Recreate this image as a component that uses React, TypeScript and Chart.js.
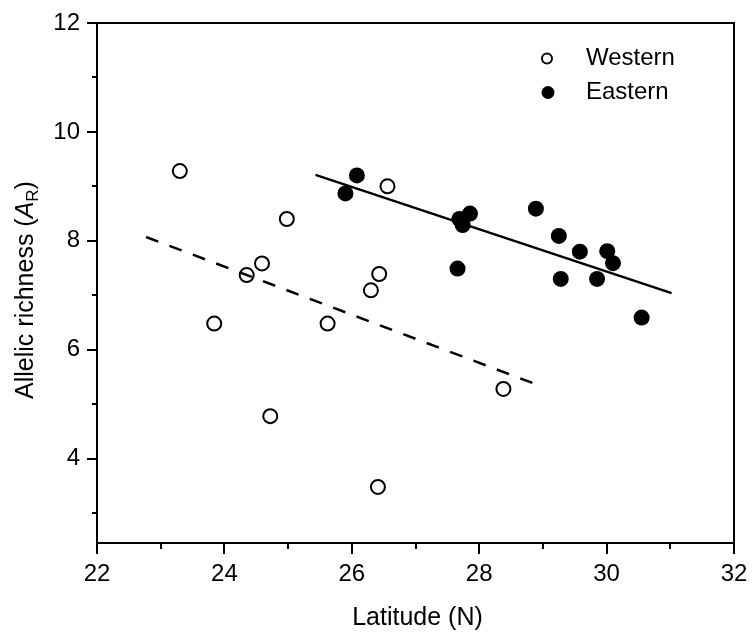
import React, { useEffect, useRef } from "react";
import { Chart, registerables } from "chart.js";

Chart.register(...registerables);

// ---- data ----
const westernLat = [23.3, 23.84, 24.35, 24.59, 24.72, 24.98, 25.62, 26.3, 26.43, 26.41, 26.56, 28.38];
const westernAR = [9.28, 6.48, 7.37, 7.585, 4.78, 8.4, 6.48, 7.09, 7.39, 3.48, 9.0, 5.28];
const easternLat = [25.9, 26.08, 27.69, 27.74, 27.855, 27.66, 28.89, 29.25, 29.28, 29.58, 29.85, 30.01, 30.1, 30.55];
const easternAR = [8.87, 9.2, 8.4, 8.29, 8.5, 7.49, 8.59, 8.09, 7.3, 7.8, 7.3, 7.81, 7.59, 6.59];
const westernFitLat = [22.77, 28.88];
const westernFitAR = [8.07, 5.37];
const easternFitLat = [25.43, 31.02];
const easternFitAR = [9.21, 7.04];
const xMajorTicks = [22, 24, 26, 28, 30, 32];
const xMinorTicks = [23, 25, 27, 29, 31];
const yMajorTicks = [4, 6, 8, 10, 12];
const yMinorTicks = [3, 5, 7, 9, 11];
const seriesNames = ["Western", "Eastern"];
const xTitle = "Latitude (N)";

const FONT = "'Liberation Sans', Arial, Helvetica, sans-serif";

const zip = (xs: number[], ys: number[]) => xs.map((x, i) => ({ x, y: ys[i] }));

const decorPlugin = {
  id: "decor",
  afterDraw(chart: any) {
    const { ctx, chartArea, scales } = chart;
    const { left, right, top, bottom } = chartArea;
    const xs = scales.x;
    const ys = scales.y;
    ctx.save();
    ctx.strokeStyle = "#000";
    ctx.fillStyle = "#000";
    ctx.lineWidth = 2;
    // frame
    ctx.strokeRect(left, top, right - left, bottom - top);
    // ticks
    ctx.beginPath();
    xMajorTicks.forEach((v) => {
      const px = Math.round(xs.getPixelForValue(v));
      ctx.moveTo(px, bottom);
      ctx.lineTo(px, bottom + 11);
    });
    xMinorTicks.forEach((v) => {
      const px = Math.round(xs.getPixelForValue(v));
      ctx.moveTo(px, bottom);
      ctx.lineTo(px, bottom + 6);
    });
    yMajorTicks.forEach((v) => {
      const py = Math.round(ys.getPixelForValue(v));
      ctx.moveTo(left, py);
      ctx.lineTo(left - 10, py);
    });
    yMinorTicks.forEach((v) => {
      const py = Math.round(ys.getPixelForValue(v));
      ctx.moveTo(left, py);
      ctx.lineTo(left - 5, py);
    });
    ctx.stroke();

    // x title
    ctx.font = `25px ${FONT}`;
    ctx.textAlign = "center";
    ctx.textBaseline = "alphabetic";
    ctx.fillText(xTitle, (left + right) / 2 + 2, 625);

    // y title with italic A and subscript R
    const parts = [
      { t: "Allelic richness (", f: `25px ${FONT}`, dy: 0 },
      { t: "A", f: `italic 25px ${FONT}`, dy: 0 },
      { t: "R", f: `17px ${FONT}`, dy: 5 },
      { t: ")", f: `25px ${FONT}`, dy: 0 },
    ];
    let total = 0;
    parts.forEach((p) => {
      ctx.font = p.f;
      total += ctx.measureText(p.t).width;
    });
    ctx.translate(33, 290);
    ctx.rotate(-Math.PI / 2);
    let cx = -total / 2;
    ctx.textAlign = "left";
    parts.forEach((p) => {
      ctx.font = p.f;
      ctx.fillText(p.t, cx, p.dy);
      cx += ctx.measureText(p.t).width;
    });
    ctx.restore();

    // legend
    ctx.save();
    ctx.strokeStyle = "#000";
    ctx.fillStyle = "#000";
    ctx.lineWidth = 2;
    ctx.beginPath();
    ctx.arc(547, 58.5, 5, 0, Math.PI * 2);
    ctx.stroke();
    ctx.beginPath();
    ctx.arc(548, 92.5, 6.5, 0, Math.PI * 2);
    ctx.fill();
    ctx.font = `24px ${FONT}`;
    ctx.textAlign = "left";
    ctx.textBaseline = "middle";
    ctx.fillText(seriesNames[0], 586, 58);
    ctx.fillText(seriesNames[1], 586, 92);
    ctx.restore();
  },
};

export default function App() {
  const ref = useRef<HTMLCanvasElement | null>(null);
  useEffect(() => {
    if (!ref.current) return;
    Chart.defaults.font.family = FONT;
    const chart = new Chart(ref.current, {
      type: "scatter",
      data: {
        datasets: [
          {
            label: seriesNames[0],
            data: zip(westernLat, westernAR),
            pointRadius: 7,
            pointBorderWidth: 2,
            pointBorderColor: "#000",
            pointBackgroundColor: "rgba(0,0,0,0)",
            showLine: false,
          },
          {
            label: seriesNames[1],
            data: zip(easternLat, easternAR),
            pointRadius: 8,
            pointBorderWidth: 0,
            pointBorderColor: "#000",
            pointBackgroundColor: "#000",
            showLine: false,
          },
          {
            label: "Western fit",
            data: zip(westernFitLat, westernFitAR),
            showLine: true,
            pointRadius: 0,
            borderColor: "#000",
            borderWidth: 2.5,
            borderDash: [13, 12],
          } as any,
          {
            label: "Eastern fit",
            data: zip(easternFitLat, easternFitAR),
            showLine: true,
            pointRadius: 0,
            borderColor: "#000",
            borderWidth: 2.5,
          } as any,
        ],
      },
      options: {
        animation: false,
        responsive: false,
        devicePixelRatio: 1,
        layout: { padding: { left: 0, top: 23, right: 19, bottom: 0 } },
        plugins: { legend: { display: false }, tooltip: { enabled: false } },
        scales: {
          x: {
            type: "linear",
            min: 22,
            max: 32,
            grid: { display: false, drawTicks: true, tickLength: 17 },
            border: { display: false },
            ticks: {
              stepSize: 2,
              padding: 0,
              color: "#000",
              font: { size: 24, family: FONT },
              maxRotation: 0,
              autoSkip: false,
              callback: (v: any) => (xMajorTicks.includes(Number(v)) ? String(v) : ""),
            },
            afterFit: (s: any) => {
              s.height = 91;
            },
          },
          y: {
            type: "linear",
            min: 2.45,
            max: 12,
            grid: { display: false, drawTicks: true, tickLength: 17 },
            border: { display: false },
            ticks: {
              stepSize: 1,
              padding: 0,
              color: "#000",
              font: { size: 24, family: FONT },
              autoSkip: false,
              callback: (v: any) => (yMajorTicks.includes(Number(v)) ? String(v) : ""),
            },
            afterFit: (s: any) => {
              s.width = 97;
            },
          },
        },
      },
      plugins: [decorPlugin],
    });
    return () => chart.destroy();
  }, []);
  return (
    <div style={{ position: "absolute", left: 0, top: 0, width: 753, height: 634, background: "#fff" }}>
      <canvas ref={ref} width={753} height={634} style={{ width: 753, height: 634, display: "block" }} />
    </div>
  );
}
